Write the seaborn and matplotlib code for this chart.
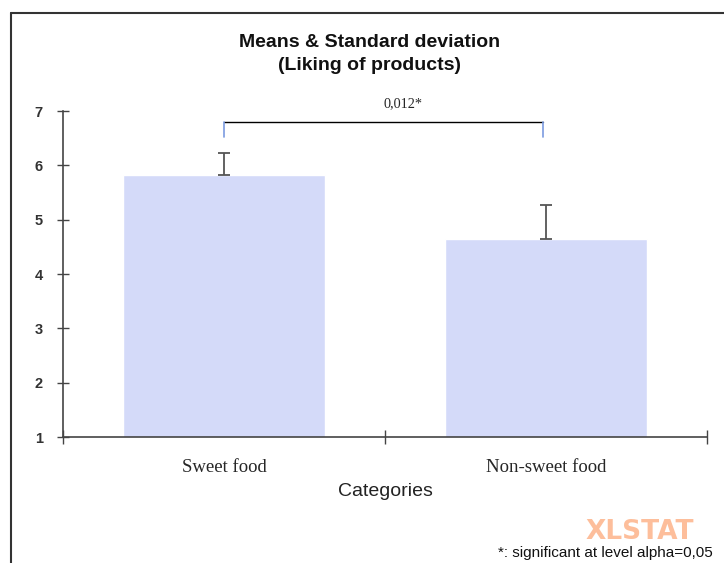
import matplotlib
matplotlib.use("Agg")
import matplotlib.pyplot as plt
from matplotlib.lines import Line2D
import seaborn as sns
import pandas as pd

# Data
categories = ["Sweet food", "Non-sweet food"]
means = [5.82, 4.65]
std_devs = [0.41, 0.62]
p_value_label = "0,012*"
yticks = [1, 2, 3, 4, 5, 6, 7]

sns.set_theme(style="white")
plt.rcParams["font.family"] = ["Liberation Sans", "DejaVu Sans"]

df = pd.DataFrame({"category": categories, "mean": means, "sd": std_devs})

fig = plt.figure(figsize=(7.24, 5.63), dpi=100)
ax = fig.add_axes([0.087, 0.2238, 0.8895, 0.579])

bar_color = "#D4DAF9"
sns.barplot(data=df, x="category", y="mean", color=bar_color, width=0.63,
            saturation=1, ax=ax, errorbar=None)

# upper standard deviation only
ax.errorbar(range(len(categories)), df["mean"], yerr=[[0] * len(categories), df["sd"]],
            fmt="none", ecolor="#555555", elinewidth=1.3, capsize=4, capthick=1.3)

ax.set_ylim(1, 7)
ax.set_xlim(-0.5, 1.5)
ax.set_yticks(yticks)
ax.set_yticklabels([str(t) for t in yticks], fontweight="bold", fontsize=10.5, color="#333333")

# category boundaries as major ticks, labels as minor
ax.set_xticks([-0.5, 0.5, 1.5])
ax.set_xticklabels([])
ax.set_xticks([0, 1], minor=True)
ax.set_xticklabels(categories, minor=True, fontsize=13.5,
                   fontfamily=["Liberation Serif", "DejaVu Serif"])
ax.tick_params(axis="x", which="minor", bottom=True, length=0, pad=16)
ax.tick_params(axis="x", which="major", bottom=True, direction="inout", length=10,
               width=1, color="#444444")
ax.tick_params(axis="y", which="major", left=True, direction="inout", length=9,
               width=1, color="#444444", pad=10)

for s in ["top", "right"]:
    ax.spines[s].set_visible(False)
for s in ["left", "bottom"]:
    ax.spines[s].set_color("#444444")
    ax.spines[s].set_linewidth(1.2)

ax.set_xlabel("Categories", fontsize=14, color="#222222", labelpad=5)
ax.set_ylabel("")

fig.text(370 / 724, 1 - 54 / 563, "Means & Standard deviation\n(Liking of products)",
         fontsize=14, fontweight="bold", ha="center", va="center", linespacing=1.45,
         color="#111111")

# significance bracket
y_br, y_leg = 6.80, 6.52
ax.plot([0, 0.99], [y_br, y_br], color="black", lw=1, clip_on=False)
ax.plot([0, 0], [y_leg, y_br], color="#7B9BE0", lw=1.2, clip_on=False)
ax.plot([0.99, 0.99], [y_leg, y_br], color="#7B9BE0", lw=1.2, clip_on=False)
ax.text(0.495, 7.02, p_value_label, ha="left", va="bottom", fontsize=10.3,
        fontfamily=["Liberation Serif", "DejaVu Serif"], clip_on=False)

# watermark and footnote
fig.text(585 / 724, 1 - 539 / 563, "XLSTAT", fontsize=19, fontweight="bold",
         fontfamily=["DejaVu Sans"], color="#FDB38A", alpha=0.85, ha="left", va="baseline")
fig.text(498 / 724, 1 - 557 / 563, "*: significant at level alpha=0,05", fontsize=11,
         color="#111111", ha="left", va="baseline")

# outer frame (top and left edges visible)
fig.add_artist(Line2D([11 / 724, 1], [1 - 13 / 563, 1 - 13 / 563], color="#333333", lw=1.5))
fig.add_artist(Line2D([11 / 724, 11 / 724], [0, 1 - 13 / 563], color="#333333", lw=1.5))

fig.savefig("out.png", dpi=100)
